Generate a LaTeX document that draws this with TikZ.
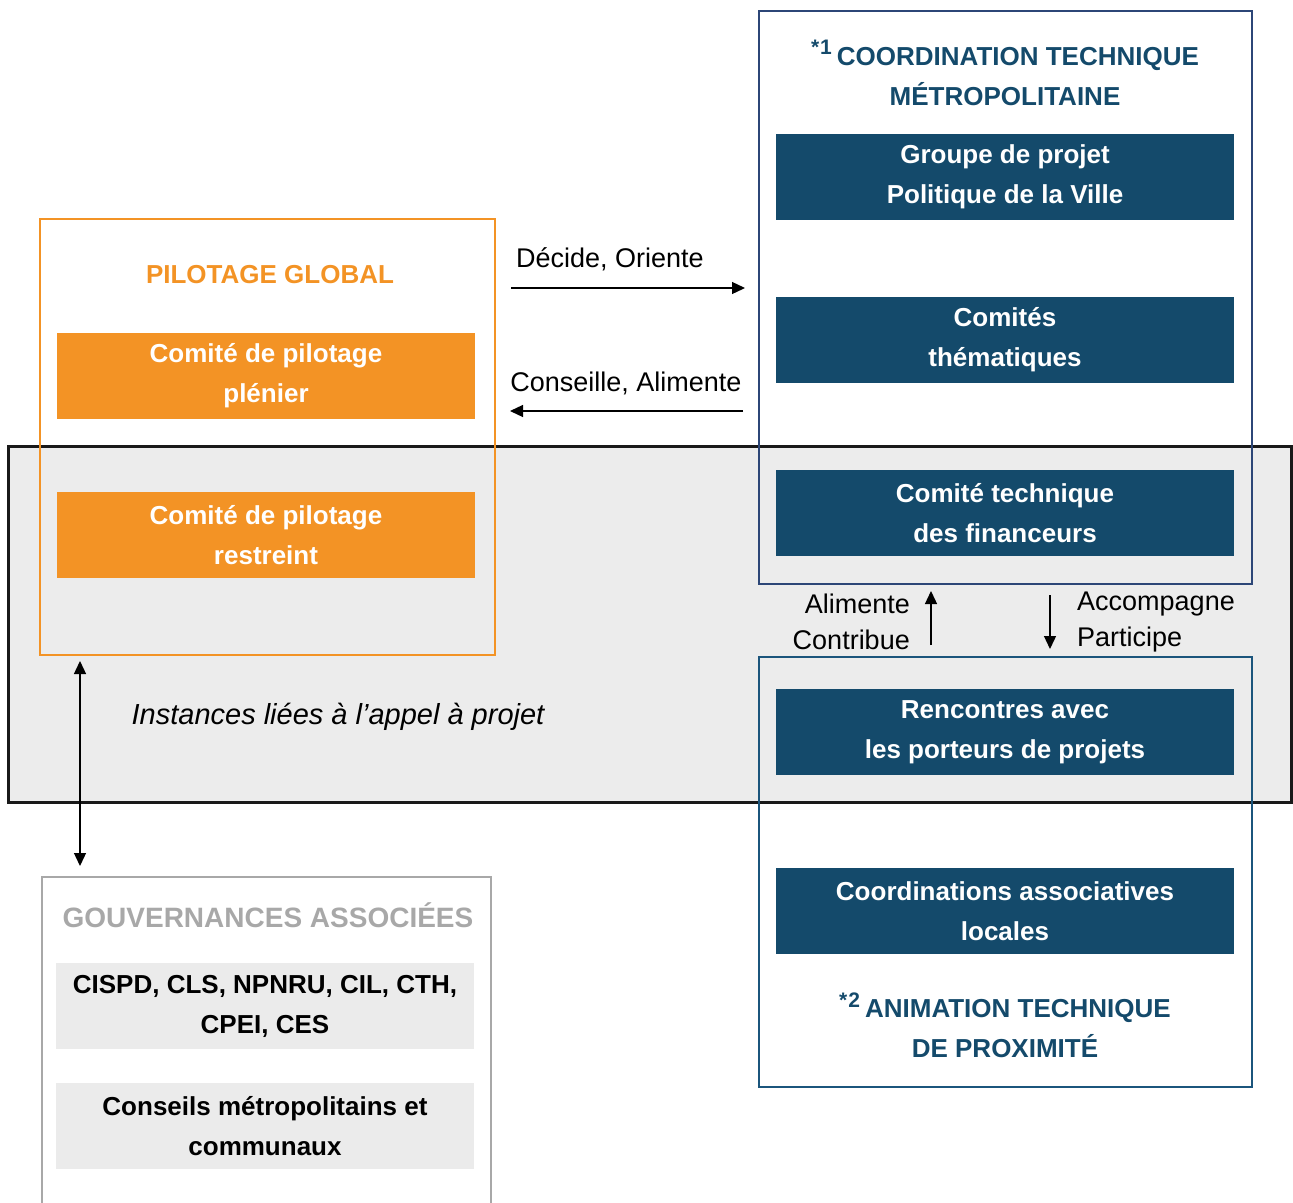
\documentclass[tikz,border=0pt]{standalone}
\usepackage{fontspec}
\setmainfont{Liberation Sans}
\usetikzlibrary{arrows.meta}
\definecolor{orangeC}{HTML}{F39325}
\definecolor{navyA}{HTML}{2C4677}
\definecolor{navyB}{HTML}{1B557C}
\definecolor{boxblue}{HTML}{144A6B}
\definecolor{bandgray}{HTML}{ECECEC}
\definecolor{gtitle}{HTML}{A8A8A8}
\definecolor{lgbox}{HTML}{EBEBEB}
\tikzset{
  x=1pt, y=-1pt,
  base/.style={font=\fontsize{26}{40}\selectfont, align=center, inner sep=0pt},
  bluebox/.style={base, fill=boxblue, text=white, font=\fontsize{26}{40}\selectfont\bfseries, minimum width=458pt, minimum height=86pt},
  orbox/.style={base, fill=orangeC, text=white, font=\fontsize{26}{40}\selectfont\bfseries, minimum width=418pt, minimum height=86pt},
  grbox/.style={base, fill=lgbox, text=black, font=\fontsize{26}{40}\selectfont\bfseries, minimum width=418pt, minimum height=86pt},
  title/.style={base, font=\fontsize{26}{40}\selectfont\bfseries},
  lbl/.style={base, text=black, font=\fontsize{27}{36}\selectfont},
  arr/.style={-{Triangle[length=13pt,width=12pt]}, line width=1.3pt, black},
}
\newcommand{\starmark}[1]{\raisebox{0.4em}{\fontsize{21}{21}\selectfont *\kern1pt#1}\kern5pt}
\begin{document}
\begin{tikzpicture}
\useasboundingbox (0,0) rectangle (1293,1202);
% band
\draw[fill=bandgray, draw=black!90, line width=3pt] (8,446) rectangle (1291,802);
% frames
\draw[orangeC, line width=2.6pt] (40,219) rectangle (495,655);
\draw[navyA, line width=2.8pt] (759,11) rectangle (1252,584);
\draw[navyB, line width=2.8pt] (759,657) rectangle (1252,1087);
\draw[gtitle, line width=2.8pt] (42,1210) -- (42,877) -- (491,877) -- (491,1210);

% nodes left
\node[title, text=orangeC] (pg) at (270,275) {PILOTAGE GLOBAL};
\node[orbox] (cpp) at (266,376) {Comité de pilotage\\plénier};
\node[orbox] (cpr) at (266,535) {Comité de pilotage\\restreint};

% right top
\node[title, text=boxblue] (ctm) at (1005,73) {\starmark{1}COORDINATION TECHNIQUE\\MÉTROPOLITAINE};
\node[bluebox] (gp) at (1005,177) {Groupe de projet\\Politique de la Ville};
\node[bluebox] (ct) at (1005,340) {Comités\\thématiques};
\node[bluebox] (ctf) at (1005,513) {Comité technique\\des financeurs};

% right bottom
\node[bluebox] (rap) at (1005,732) {Rencontres avec\\les porteurs de projets};
\node[bluebox] (cal) at (1005,911) {Coordinations associatives\\locales};
\node[title, text=boxblue] (atp) at (1005,1025) {\starmark{2}ANIMATION TECHNIQUE\\DE PROXIMITÉ};

% gouvernances
\node[title, text=gtitle, font=\fontsize{28}{40}\selectfont\bfseries] (ga) at (268,915) {GOUVERNANCES ASSOCIÉES};
\node[grbox] (cis) at (265,1006) {CISPD, CLS, NPNRU, CIL, CTH,\\CPEI, CES};
\node[grbox] (cmc) at (265,1126) {Conseils métropolitains et\\communaux};

% horizontal arrows
\coordinate (a1s) at (511,288); \coordinate (a1e) at (745,288);
\coordinate (a2s) at (743,411); \coordinate (a2e) at (510,411);
\draw[arr] (a1s) -- (a1e);
\draw[arr] (a2s) -- (a2e);
\node[lbl] (do) at (610,259) {Décide, Oriente};
\node[lbl] (ca) at (626,383) {Conseille, Alimente};

% vertical arrows
\coordinate (u1s) at (931,645); \coordinate (u1e) at (931,591);
\coordinate (d1s) at (1050,595); \coordinate (d1e) at (1050,649);
\draw[arr] (u1s) -- (u1e);
\draw[arr] (d1s) -- (d1e);
\node[lbl, anchor=east, align=right] (ac) at (910,622) {Alimente\\Contribue};
\node[lbl, anchor=west, align=left] (apl) at (1077,622) {Accompagne\\Participe};

% double arrow
\coordinate (v1) at (80,661); \coordinate (v2) at (80,866);
\draw[arr, {Triangle[length=13pt,width=12pt]}-{Triangle[length=13pt,width=12pt]}] (v1) -- (v2);
\node[lbl, font=\fontsize{29}{40}\selectfont\itshape] (inst) at (338,717) {Instances liées à l’appel à projet};
\end{tikzpicture}
\end{document}
